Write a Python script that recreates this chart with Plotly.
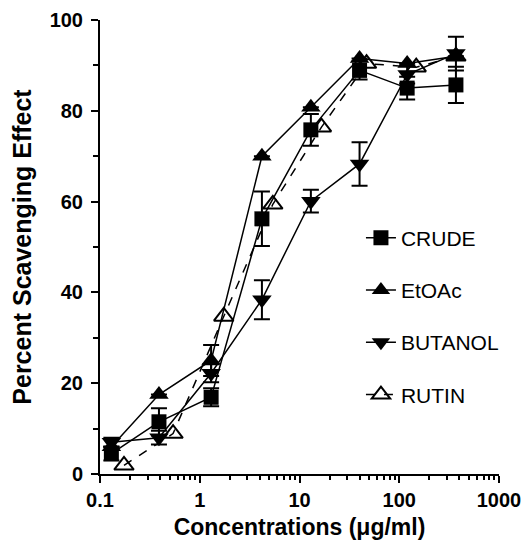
import plotly.graph_objects as go

conc = [0.13, 0.39, 1.3, 4.2, 13, 40, 120, 370]
conc_rutin = [0.174, 0.54, 1.74, 5.4, 16.6, 47, 148, 370]

crude = [4.5, 11.5, 16.9, 56.2, 75.8, 88.9, 85.0, 85.7]
crude_err = [1.5, 3.0, 2.0, 6.0, 3.5, 2.0, 2.5, 4.0]

etoac = [6.0, 17.5, 25.0, 70.0, 80.8, 91.5, 90.4, 92.0]
etoac_err = [0, 0, 3.4, 0, 0, 0, 0, 0]

butanol = [7.0, 8.0, 22.2, 38.4, 60.1, 68.3, 88.0, 92.6]
butanol_err = [1.0, 1.5, 2.0, 4.3, 2.5, 4.8, 2.0, 3.7]

rutin = [1.9, 8.9, 34.7, 59.4, 76.4, 90.4, 89.6, 92.0]

names = ["CRUDE", "EtOAc", "BUTANOL", "RUTIN"]

fig = go.Figure()

def err(vals):
    return dict(type="data", array=vals, visible=True, color="black",
                thickness=2, width=8)

fig.add_trace(go.Scatter(
    x=conc, y=crude, name=names[0], legendgroup="a", mode="lines+markers",
    line=dict(color="black", width=1.5),
    marker=dict(symbol="square", size=15, color="black"),
    error_y=err(crude_err), cliponaxis=False))
fig.add_trace(go.Scatter(
    x=conc, y=etoac, name=names[1], legendgroup="b", mode="lines+markers",
    line=dict(color="black", width=1.5),
    marker=dict(symbol="triangle-up", size=17, color="black"),
    error_y=err(etoac_err), cliponaxis=False))
fig.add_trace(go.Scatter(
    x=conc, y=butanol, name=names[2], legendgroup="c", mode="lines+markers",
    line=dict(color="black", width=1.5),
    marker=dict(symbol="triangle-down", size=17, color="black"),
    error_y=err(butanol_err), cliponaxis=False))
fig.add_trace(go.Scatter(
    x=conc_rutin, y=rutin, name=names[3], legendgroup="d", mode="lines+markers",
    line=dict(color="black", width=1.5, dash="dash"),
    marker=dict(symbol="triangle-up-open", size=17, color="black",
                line=dict(width=2, color="black")),
    cliponaxis=False))

font_family = "Liberation Sans, Arial, sans-serif"

fig.update_layout(
    width=521, height=539,
    margin=dict(l=92, r=30, t=12, b=73),
    plot_bgcolor="white", paper_bgcolor="white",
    font=dict(family=font_family, color="black"),
    showlegend=True,
    legend=dict(x=0.654, y=0.565, xanchor="left", yanchor="top",
                bgcolor="rgba(0,0,0,0)", font=dict(size=21),
                tracegroupgap=22, itemwidth=30),
    xaxis=dict(
        type="log", range=[-1, 3], automargin=False,
        tickvals=[0.1, 1, 10, 100, 1000],
        ticktext=["0.1", "1", "10", "100", "1000"],
        tickfont=dict(size=20, family=font_family, weight="bold"),
        showline=True, linecolor="black", linewidth=2,
        ticks="outside", ticklen=7, tickwidth=2, tickcolor="black",
        showgrid=False, zeroline=False,
        minor=dict(ticks="outside", ticklen=4, tickwidth=1.5, tickcolor="black",
                   tickvals=[m * d for d in [0.1, 1, 10, 100] for m in range(2, 10)],
                   showgrid=False),
        title=dict(text="Concentrations (μg/ml)",
                   font=dict(size=23, family=font_family, weight="bold"),
                   standoff=9),
    ),
    yaxis=dict(
        range=[0, 100], automargin=False,
        tickvals=[0, 20, 40, 60, 80, 100],
        tickfont=dict(size=20, family=font_family, weight="bold"),
        ticklabelstandoff=4,
        showline=True, linecolor="black", linewidth=2,
        ticks="outside", ticklen=7, tickwidth=2, tickcolor="black",
        showgrid=False, zeroline=False,
        minor=dict(ticks="outside", ticklen=5, tickwidth=1.5, tickcolor="black",
                   dtick=10, showgrid=False),
        title=dict(text="Percent Scavenging Effect",
                   font=dict(size=25, family=font_family, weight="bold"),
                   standoff=25),
    ),
)

fig.write_html("out.html")
